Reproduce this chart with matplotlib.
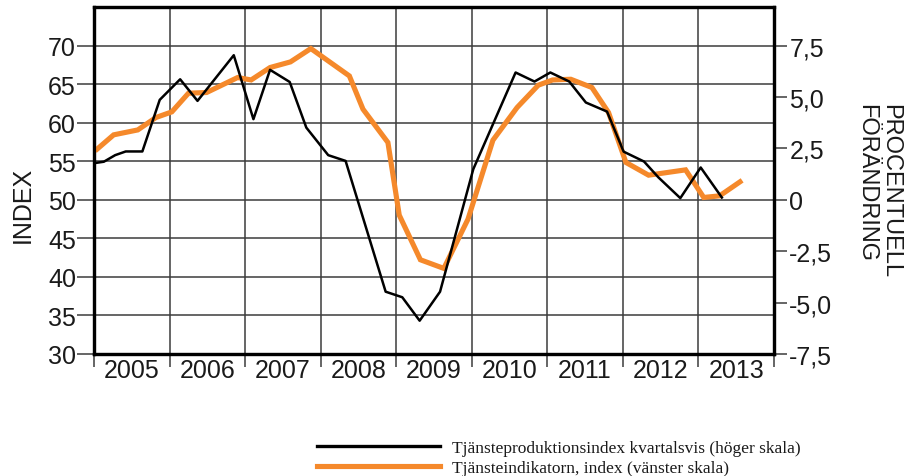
import matplotlib
matplotlib.use("Agg")
import matplotlib.pyplot as plt
from matplotlib.ticker import FixedLocator, NullFormatter

# --- data ------------------------------------------------------------------
# Tjänsteproduktionsindex, kvartalsvis procentuell förändring (höger skala)
prod_x = [2005.00, 2005.13, 2005.28, 2005.42, 2005.64, 2005.87, 2006.14, 2006.37,
          2006.85, 2007.11, 2007.33, 2007.59, 2007.81, 2008.10, 2008.33, 2008.86,
          2009.08, 2009.31, 2009.58, 2010.02, 2010.58, 2010.83, 2011.04, 2011.29,
          2011.51, 2011.79, 2012.01, 2012.28, 2012.47, 2012.76, 2013.03, 2013.31]
prod_y = [1.78, 1.85, 2.17, 2.35, 2.35, 4.86, 5.86, 4.81,
          7.03, 3.92, 6.32, 5.73, 3.51, 2.17, 1.89, -4.47,
          -4.74, -5.88, -4.47, 1.49, 6.19, 5.75, 6.19, 5.75,
          4.73, 4.29, 2.34, 1.86, 1.09, 0.08, 1.57, 0.11]

# Tjänsteindikatorn, index (vänster skala)
ind_x = [2005.04, 2005.26, 2005.58, 2005.82, 2006.03, 2006.25, 2006.49, 2006.90,
         2007.08, 2007.33, 2007.60, 2007.87, 2008.38, 2008.56, 2008.89, 2009.04,
         2009.32, 2009.63, 2009.95, 2010.28, 2010.60, 2010.88, 2011.07, 2011.31,
         2011.59, 2011.81, 2012.04, 2012.34, 2012.83, 2013.07, 2013.28, 2013.55]
ind_y = [56.56, 58.42, 59.06, 60.67, 61.40, 63.82, 63.91, 65.85,
         65.54, 67.15, 67.88, 69.61, 66.06, 61.75, 57.43, 48.01,
         42.22, 41.10, 47.49, 57.73, 61.97, 64.86, 65.54, 65.63,
         64.56, 61.32, 54.84, 53.19, 53.88, 50.30, 50.51, 52.33]

YEARS = list(range(2005, 2014))
LEFT_TICKS = [30, 35, 40, 45, 50, 55, 60, 65, 70]
RIGHT_TICKS = [-7.5, -5.0, -2.5, 0, 2.5, 5.0, 7.5]
RIGHT_LABELS = ["-7,5", "-5,0", "-2,5", "0", "2,5", "5,0", "7,5"]

LEG_PROD = "Tjänsteproduktionsindex kvartalsvis (höger skala)"
LEG_IND = "Tjänsteindikatorn, index (vänster skala)"

ORANGE = "#F5892B"
INK = "#1a1a1a"
GRID = "#3c3c3c"

plt.rcParams["font.family"] = ["Liberation Sans", "DejaVu Sans"]

W, H = 906, 477
fig = plt.figure(figsize=(W / 100, H / 100), dpi=100)
ax = fig.add_axes([94 / W, 1 - 355 / H, (774 - 94) / W, (355 - 8) / H])

# vänster skala: index
ax.plot(ind_x, ind_y, color=ORANGE, lw=3.7, solid_joinstyle="miter", zorder=3)
ax.set_xlim(2005, 2014)
ax.set_ylim(30, 75)

ax.yaxis.set_major_locator(FixedLocator(LEFT_TICKS))
ax.tick_params(axis="y", which="major", direction="out", length=12, width=1.1,
               color=GRID, pad=1, labelsize=18, labelcolor=INK)

# årsgränser som major ticks, årtal centrerade som minor ticks
ax.xaxis.set_major_locator(FixedLocator(YEARS + [2014]))
ax.xaxis.set_major_formatter(NullFormatter())
ax.xaxis.set_minor_locator(FixedLocator([y + 0.5 for y in YEARS]))
ax.set_xticklabels([str(y) for y in YEARS], minor=True)
ax.tick_params(axis="x", which="major", direction="out", length=9, width=1.1, color=GRID)
ax.tick_params(axis="x", which="minor", length=0, pad=3, labelsize=18, labelcolor=INK)

ax.grid(True, which="major", color=GRID, lw=1.1)
ax.set_axisbelow(True)
for sp in ax.spines.values():
    sp.set_linewidth(2.3)
    sp.set_color("black")

# höger skala: procentuell förändring
ax2 = ax.twinx()
ax2.plot(prod_x, prod_y, color="black", lw=1.8, zorder=4)
lo, hi = ax.get_ylim()
ax2.set_ylim((lo - 50) * 0.375, (hi - 50) * 0.375)
ax2.yaxis.set_major_locator(FixedLocator(RIGHT_TICKS))
ax2.set_yticklabels(RIGHT_LABELS)
ax2.tick_params(axis="y", direction="out", length=9, width=1.1, color=GRID,
                pad=2, labelsize=18, labelcolor=INK)
for sp in ax2.spines.values():
    sp.set_linewidth(2.3)
    sp.set_color("black")

# axeltitlar
fig.text(23 / W, 1 - 205 / H, "INDEX", rotation=90, ha="center", va="center",
         fontsize=18, color=INK)
fig.text(878 / W, 1 - 104 / H, "PROCENTUELL\nFÖRÄNDRING", rotation=270,
         ha="center", va="top", multialignment="left", linespacing=1.15,
         fontsize=17, color=INK)

# legend
h1, = ax.plot([], [], color="black", lw=2.4)
h2, = ax.plot([], [], color=ORANGE, lw=3.7)
fig.legend([h1, h2], [LEG_PROD, LEG_IND], loc="upper left",
           bbox_to_anchor=(317 / W, 1 - 441 / H), frameon=False,
           prop={"family": ["Liberation Serif", "DejaVu Serif"], "size": 12.5},
           handlelength=7.1, handletextpad=0.67, labelspacing=0.2,
           borderpad=0, borderaxespad=0, labelcolor=INK)

fig.savefig("out.png", dpi=100)
